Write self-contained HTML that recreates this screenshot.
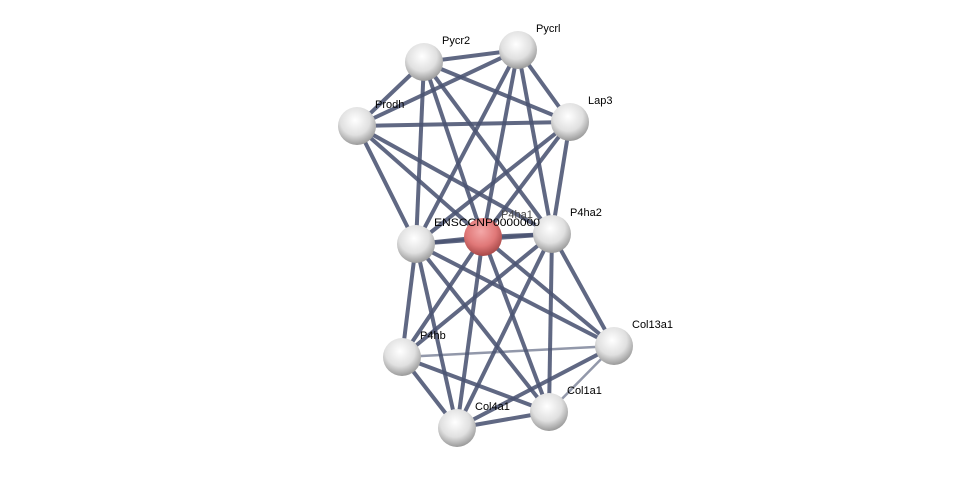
<!DOCTYPE html>
<html><head><meta charset="utf-8"><style>
html,body{margin:0;padding:0;background:#fff;}
svg text{font-family:"Liberation Sans",sans-serif;font-size:11px;fill:#000;}
</style></head><body>
<svg width="975" height="473" viewBox="0 0 975 473" xmlns="http://www.w3.org/2000/svg">
<defs>
<radialGradient id="g" cx="0.45" cy="0.35" r="0.65">
<stop offset="0" stop-color="#ffffff"/><stop offset="0.6" stop-color="#e0e0e0"/><stop offset="1" stop-color="#9a9a9a"/>
</radialGradient>
<radialGradient id="r" cx="0.45" cy="0.35" r="0.65">
<stop offset="0" stop-color="#f4a8a8"/><stop offset="0.6" stop-color="#e07878"/><stop offset="1" stop-color="#a84848"/>
</radialGradient>
</defs>
<g stroke="#4a5372" stroke-width="4" stroke-opacity="0.88">
<line x1="424" y1="62" x2="518" y2="50"/><line x1="424" y1="62" x2="357" y2="126"/><line x1="424" y1="62" x2="570" y2="122"/>
<line x1="424" y1="62" x2="416" y2="244"/><line x1="424" y1="62" x2="483" y2="237"/><line x1="424" y1="62" x2="552" y2="234"/>
<line x1="518" y1="50" x2="357" y2="126"/><line x1="518" y1="50" x2="570" y2="122"/><line x1="518" y1="50" x2="416" y2="244"/>
<line x1="518" y1="50" x2="483" y2="237"/><line x1="518" y1="50" x2="552" y2="234"/>
<line x1="357" y1="126" x2="570" y2="122"/><line x1="357" y1="126" x2="416" y2="244"/><line x1="357" y1="126" x2="483" y2="237"/><line x1="357" y1="126" x2="552" y2="234"/>
<line x1="570" y1="122" x2="416" y2="244"/><line x1="570" y1="122" x2="483" y2="237"/><line x1="570" y1="122" x2="552" y2="234"/>
<line x1="416" y1="244" x2="483" y2="237"/><line x1="416" y1="244" x2="552" y2="234"/><line x1="416" y1="244" x2="402" y2="357"/>
<line x1="416" y1="244" x2="457" y2="428"/><line x1="416" y1="244" x2="549" y2="412"/><line x1="416" y1="244" x2="614" y2="346"/>
<line x1="483" y1="237" x2="552" y2="234"/><line x1="483" y1="237" x2="402" y2="357"/><line x1="483" y1="237" x2="457" y2="428"/>
<line x1="483" y1="237" x2="549" y2="412"/><line x1="483" y1="237" x2="614" y2="346"/>
<line x1="552" y1="234" x2="402" y2="357"/><line x1="552" y1="234" x2="457" y2="428"/><line x1="552" y1="234" x2="549" y2="412"/><line x1="552" y1="234" x2="614" y2="346"/>
<line x1="402" y1="357" x2="614" y2="346" stroke-width="2.5" stroke-opacity="0.6"/><line x1="402" y1="357" x2="457" y2="428"/><line x1="402" y1="357" x2="549" y2="412"/>
<line x1="614" y1="346" x2="549" y2="412" stroke-width="2.5" stroke-opacity="0.6"/><line x1="614" y1="346" x2="457" y2="428"/><line x1="457" y1="428" x2="549" y2="412"/>
</g>
<g>
<circle cx="424" cy="62" r="19" fill="url(#g)"/>
<circle cx="518" cy="50" r="19" fill="url(#g)"/>
<circle cx="357" cy="126" r="19" fill="url(#g)"/>
<circle cx="570" cy="122" r="19" fill="url(#g)"/>
<circle cx="416" cy="244" r="19" fill="url(#g)"/>
<circle cx="483" cy="237" r="19" fill="url(#r)"/>
<circle cx="552" cy="234" r="19" fill="url(#g)"/>
<circle cx="402" cy="357" r="19" fill="url(#g)"/>
<circle cx="614" cy="346" r="19" fill="url(#g)"/>
<circle cx="549" cy="412" r="19" fill="url(#g)"/>
<circle cx="457" cy="428" r="19" fill="url(#g)"/>
</g>
<text x="442" y="44">Pycr2</text>
<text x="536" y="32">Pycrl</text>
<text x="375" y="108">Prodh</text>
<text x="588" y="104">Lap3</text>
<text x="501" y="218" style="fill:#444">P4ha1</text>
<text x="434" y="226" textLength="106" lengthAdjust="spacingAndGlyphs">ENSCCNP0000000</text>
<text x="570" y="216">P4ha2</text>
<text x="420" y="339">P4hb</text>
<text x="632" y="328">Col13a1</text>
<text x="567" y="394">Col1a1</text>
<text x="475" y="410">Col4a1</text>
</svg>
</body></html>
